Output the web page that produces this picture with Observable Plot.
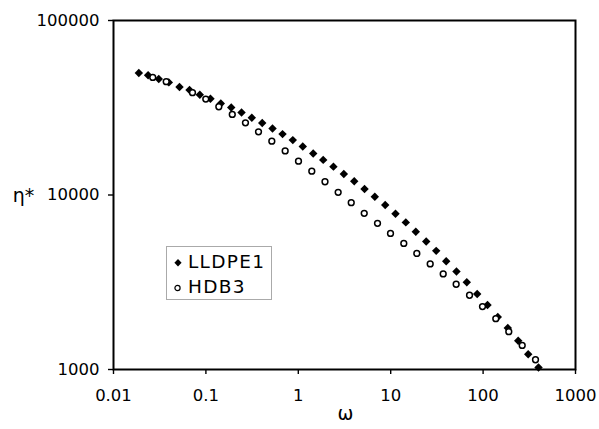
<!DOCTYPE html>
<html>
<head>
<meta charset="utf-8">
<script src="https://cdn.jsdelivr.net/npm/d3@7"></script>
<script src="https://cdn.jsdelivr.net/npm/@observablehq/plot@0.6"></script>
<style>
  html, body { margin: 0; padding: 0; background: #fff; }
  #wrap { position: relative; width: 599px; height: 429px; }
  #legend {
    position: absolute; left: 166px; top: 246px; width: 106px; height: 54px;
    border: 1px solid #aaa; box-sizing: border-box;
    font-family: "DejaVu Sans", sans-serif; font-size: 18.5px; letter-spacing: 1.3px; color: #000;
  }
  .item { position: absolute; left: 0; height: 24px; line-height: 24px; white-space: nowrap; }
  .item svg { position: absolute; left: 4px; top: 6px; }
  .item span { position: absolute; left: 21px; }
</style>
</head>
<body>
<div id="wrap"></div>
<script>
const seriesNames = ["LLDPE1", "HDB3"];
const xTicks = [0.01, 0.1, 1, 10, 100, 1000];
const yTicks = [1000, 10000, 100000];
const xLabel = "ω";
const yLabel = "η*";

const omegaL = [0.0188,0.0237,0.0309,0.0397,0.0518,0.0665,0.0859,0.112,0.145,0.188,
  0.243,0.314,0.407,0.526,0.675,0.872,1.118,1.45,1.86,2.40,
  3.11,4.03,5.21,6.73,8.72,11.27,14.57,18.69,24.23,31.08,
  39.87,51.5,66.6,86.3,111.6,144.2,185.1,239.9,307.7,397.8];
const etaL = [50050,48500,46220,44190,41590,39970,37550,35620,33470,31750,
  29720,27700,25830,24040,22330,20630,18950,17280,15890,14540,
  13200,11990,10830,9777,8760,7807,6968,6153,5419,4786,
  4176,3644,3162,2709,2342,1998,1727,1462,1224,1027];
const omegaH = [0.0266,0.0372,0.0716,0.0997,0.138,0.193,0.268,0.371,
  0.517,0.721,1.005,1.40,1.945,2.70,3.74,5.17,7.20,9.95,
  13.86,19.17,26.76,37.0,51.1,71.3,98.5,137.2,189.7,265.0,369.1];
const etaH = [47210,44600,38570,35480,32040,28940,25930,23020,
  20350,17900,15620,13690,11910,10360,9031,7849,6877,6025,
  5278,4623,4029,3529,3080,2663,2293,1956,1647,1374,1137];

const dataL = omegaL.map((w, i) => ({w, eta: etaL[i]}));
const dataH = omegaH.map((w, i) => ({w, eta: etaH[i]}));

const chart = Plot.plot({
  width: 599, height: 429,
  marginLeft: 113, marginRight: 24, marginTop: 20, marginBottom: 60,
  style: {fontFamily: "DejaVu Sans, sans-serif", fontSize: "16.5px", color: "#000", background: "#fff"},
  x: {type: "log", domain: [0.01, 1000]},
  y: {type: "log", domain: [1000, 100000]},
  marks: [
    Plot.axisX({ticks: xTicks, tickFormat: d => String(d), tickSize: 5, tickPadding: 15, label: null, stroke: "#000", strokeWidth: 1.4}),
    Plot.axisY({ticks: yTicks, tickFormat: d => String(d), tickSize: 5, tickPadding: 9, label: null, stroke: "#000", strokeWidth: 1.4}),
    Plot.frame({stroke: "#000", strokeWidth: 2}),
    Plot.dot(dataL, {x: "w", y: "eta", symbol: "diamond2", r: 3.8, fill: "#000", stroke: "none"}),
    Plot.dot(dataH, {x: "w", y: "eta", symbol: "circle", r: 2.9, fill: "#fff", stroke: "#000", strokeWidth: 1.5}),
    Plot.text([yLabel], {frameAnchor: "left", dx: -90, dy: 1, text: d => d, fontSize: 19, textAnchor: "middle"}),
    Plot.text([xLabel], {frameAnchor: "bottom", dx: 1, dy: 50, text: d => d, fontSize: 19, textAnchor: "middle"})
  ]
});
const wrap = document.getElementById("wrap");
wrap.appendChild(chart);

const legend = document.createElement("div");
legend.id = "legend";
const symbols = [
  '<svg width="14" height="14"><path d="M7,3L10.6,6.8L7,10.6L3.4,6.8Z" fill="#000"/></svg>',
  '<svg width="14" height="14"><circle cx="6.5" cy="7" r="2.6" fill="#fff" stroke="#000" stroke-width="1.2"/></svg>'
];
seriesNames.forEach((name, i) => {
  const it = document.createElement("div");
  it.className = "item";
  it.style.top = (3 + i * 25) + "px";
  it.innerHTML = symbols[i] + "<span>" + name + "</span>";
  legend.appendChild(it);
});
wrap.appendChild(legend);
</script>
</body>
</html>
